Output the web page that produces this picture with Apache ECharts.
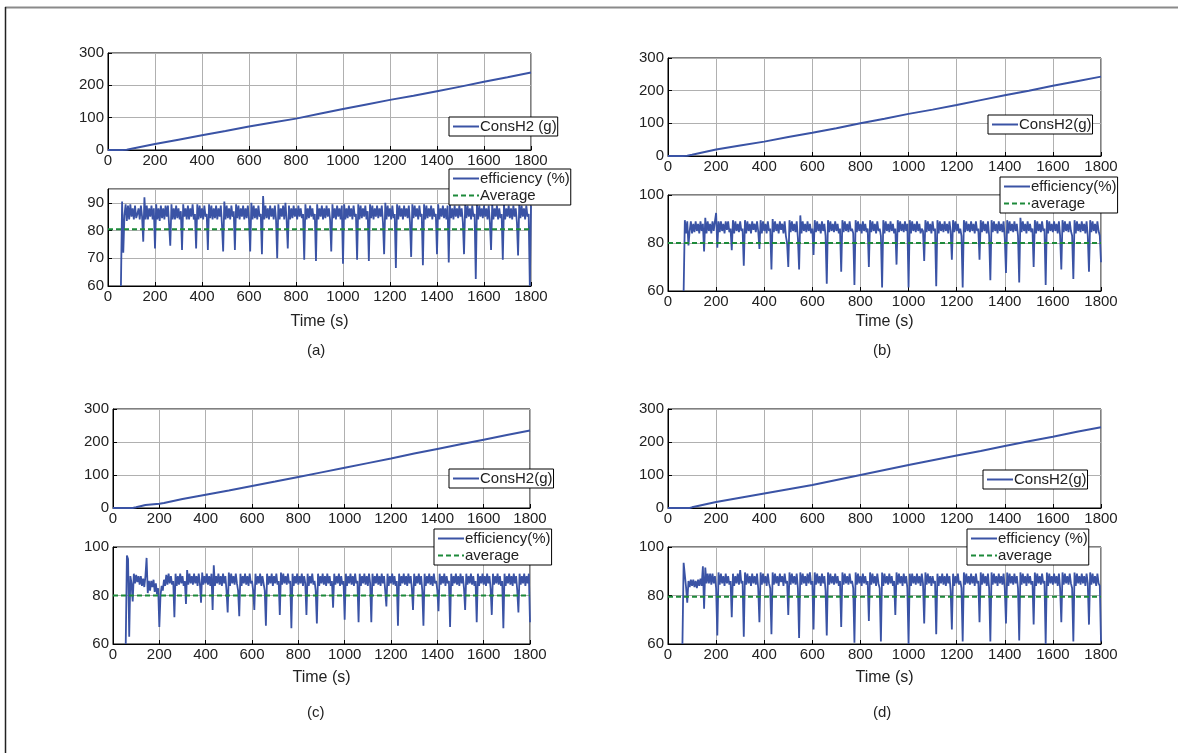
<!DOCTYPE html>
<html><head><meta charset="utf-8">
<script src="https://cdn.jsdelivr.net/npm/echarts@6/dist/echarts.min.js"></script>
<style>html,body{margin:0;padding:0;background:#fff}#c{width:1178px;height:753px}</style>
</head><body><div id="c"></div>
<script>
// ---------- DATA ----------
const X_MIN = 0, X_MAX = 1800, X_INTERVAL = 200;
const EFF_STEP = 5; // sampling step (s) of the efficiency records

// Hydrogen consumption (g)
const CONS_T_A = [0,60,80,100,200,300,400,500,600,700,800,900,1000,1100,1200,1300,1400,1500,1600,1700,1800];
const CONS_A   = [0,0,1,4,18.5,32,45.5,59,73,85,97,112,127,141,155,168,182,196,211,225,240];
const CONS_T_B = [0,60,80,100,200,300,400,500,600,700,800,900,1000,1100,1200,1300,1400,1500,1600,1700,1800];
const CONS_B   = [0,0,1,4,20,32,44,58,71,85,100,114,129,142,156,171,186,200,215,229,243];
const CONS_T_C = [0,85,100,140,200,220,300,400,500,600,700,800,900,1000,1100,1200,1300,1400,1500,1600,1700,1800];
const CONS_C   = [0,0,2,9,13,15,27,40,53,66.5,80,94,108,122,136,150,165,179,193,207,221,235];
const CONS_T_D = [0,60,90,100,200,300,400,500,600,700,800,900,1000,1100,1200,1300,1400,1500,1600,1700,1800];
const CONS_D   = [0,0,0,2,18,31,44,57,70,85,100,115,130,145,159,173,188,202,216,231,245];

// Efficiency (%), one value every 5 s from 0 to 1800 s (null = no record)
const EFF_A = [
null,null,null,null,null,null,null,null,null,null,
null,60,90.5,72,85.5,89.5,83.5,89,84,89.5,
85,88,84,89,84.5,86,88,84,89,85,
76,92,84,89,84,88,85,89,84,88,
73.5,89.5,84,88,83.5,89,84.5,88,84,89,
85,89,82,74.5,89.5,84,88,84,89,84.5,
88,84,87,73,89.5,85,88,84,89,84,
88,85,89.5,84,86,73.5,89.5,84,89,84.5,
88,84,89,85,86,73,89.5,84.5,89,84,
88,84.5,89,84,88,85,89,82,72.5,90.5,
84,89,84.5,88,84,89,85,87,73,89.5,
84.5,89,84,88,85,89,84,88,84.5,89,
84,72.5,90,84,89,84.5,88,84,89,85,
86,71.5,92.5,84,89,84.5,88,84,89,85,
88,84,89,84,70,89.5,84,88,85,89,
84,90,84,73.5,89,84,88,84.5,89,85,
88,84,89,85,88,84.5,86,69.5,89.5,84,
88,84.5,89,85,88,84,86,69,89.5,84,
88,85,89,84,88,84.5,89,85,88,84,
72.5,89.5,84.5,88,84,89,85,88,84,89,
68,89.5,84,88,84.5,89,85,88,84,89,
85,86,69.5,89.5,84,89,84.5,88,85,89,
84,87,69,89.5,84.5,89,84,88,85,89,
84.5,88,85,89,83,71.5,90,84,89,85,
88,84,89,84.5,86,66.5,89.5,84,89,85,
88,84,89,85,88,84.5,89,83,70.5,89.5,
84.5,89,85,88,84,89,85,86,67.5,89.5,
84,89,84.5,88,85,89,84,88,85,86,
71.5,89.5,84,88,85,89,84.5,88,84,89,
68.5,89.5,84.5,88,84,89,85,88,84.5,89,
85,88,83,71.5,89.5,84.5,89,85,88,84,
89,85,86,62.5,89.5,84,89,85,88,84.5,
89,85,88,84,89,83,73,89.5,84,88,
85,89,84,88,84.5,86,69.5,89.5,84,88,
85,89,84.5,88,84,89,85,88,83,71,
89.5,84.5,89,85,88,84,89,85,86,60,
89];
const EFF_B = [
null,null,null,null,null,null,null,null,null,null,
null,null,null,60,89.5,84,89,79,85,89,
84,88,84.5,89,85,88,84,89,85,88,
76.5,90.5,84,89,85,88,84,89,85,89,
92.5,78,89,84.5,89,85,88,84,89,85.5,
89,84.5,86,77,89.5,84,89,85,88,84.5,
89,85,86,70.5,89.5,84,89,85,88,84,
89,85.5,88,84.5,89,85,77.5,89.5,84,89,
85,88,84,89,85,86,69,90,84.5,89,
85,88,84,89,85.5,88,84,89,83,80,
70,89.5,84.5,89,85,88,84.5,89,82,69,
91.5,84,89,85,88,84.5,89,85,88,84,
86,75,89.5,84.5,89,85,88,84,89,85,
88,83,63,89.5,84.5,89,85,88,84.5,89,
85,88,84,86,68,89.5,84.5,89,85,88,
84.5,89,85,86,84,62.5,89.5,84.5,89,85,
88,84,89,85,88,84.5,86,70,89.5,84.5,
89,85,88,84,89,85,86,83,61.5,89.5,
84,89,85,88,84.5,89,85,88,84,86,
71,89.5,84.5,89,85,88,84.5,89,85,88,
61.5,89.5,84,89,85,88,84.5,89,85,88,
84,86,85,72.5,89.5,84.5,89,85,88,84,
89,85,86,62,89.5,84,89,85,88,84.5,
89,85,88,84,89,85,73,89.5,84.5,89,
85,88,84,86,83,61.5,89.5,84.5,89,85,
88,84.5,89,85,88,84,89,85,86,73,
89.5,84.5,89,85,88,84,89,83,64.5,89.5,
84.5,89,85,88,84,89,85,88,84.5,89,
82,67.5,89.5,84,89,85,88,84.5,89,85,
88,83,63.5,90.5,84.5,89,85,88,84,89,
85,88,84.5,86,70,89.5,84,89,85,88,
84.5,89,85,86,62.5,89.5,84,89,85,88,
84.5,89,85,88,84,89,83,69,89.5,84.5,
89,85,88,84.5,89,85,83,65,89.5,84,
89,85,88,84.5,89,85,88,84,89,83,
68,89.5,84.5,89,85,88,84,89,85,83,
72];
const EFF_C = [
null,null,null,null,null,null,null,null,null,null,
null,60,96.5,95,63,88,85,77.5,89,85,
88.5,85.5,88,84.5,88,84,87,83.5,88,95.5,
81,86,82,86,83.5,86.5,81.5,85,80.5,83,
67,80,84,82,86.5,84,88.5,84.5,89,85,
88,84.5,86,71,89,84,88,84.5,89,85,
88,84,86,76.5,90.5,84.5,89,85,88,84.5,
89,85,88,84,89,85,77,89.5,84.5,88,
85,89,84.5,88,84,89,74,92.5,84,88,
85,89,84.5,88,84,89,85,88,82,73,
89.5,84,89,85,88,84.5,89,85,82,71.5,
89,84,88,85,89,84.5,88,84,89,85,
86,82,74,89,84.5,88,85,89,84,88,
85,82,67.5,89,84.5,88,85,89,84,88,
85,89,84.5,86,72,89.5,84.5,89,85,88,
84.5,89,85,86,66.5,89,84,88,85,89,
84.5,88,85,89,84,88,85,72,89,84,
88,85,89,84.5,86,82,68.5,89,84,88,
85,89,84.5,88,84,89,85,88,84,86,
75,89,84.5,88,85,89,84,88,84.5,86,
70,89,84,88,85,89,84.5,88,84,89,
85,86,69,89,84,88,85,89,84.5,88,
84,89,85,69,89,84,88,85,89,84.5,
88,84,89,85,88,82,75.5,89,84,88,
85,89,84.5,88,84,86,67.5,89,84,88,
85,89,84.5,88,84,89,85,88,83,74,
89,84,88,85,89,84.5,88,82,67.5,89,
84,88,85,89,84.5,88,84,89,85,86,
82,73.5,89,84.5,88,85,89,84,88,85,
86,67,89,84,88,85,89,84.5,88,84,
89,85,88,83,74,89,84.5,88,85,89,
84.5,88,84,86,69,89,84,88,85,89,
84.5,88,84,89,85,88,83,72,89,84.5,
88,85,89,84.5,88,84,86,66.5,89,84,
88,85,89,84.5,88,84,89,85,88,82,
73,89,84.5,88,85,89,84,88,85,89,
69];
const EFF_D = [
null,null,null,null,null,null,null,null,null,null,
null,null,60,93.5,93,83.5,77,86,83.5,86.5,
84,86.5,83.5,86,83,86.5,84,87,84,92,
74.5,91.5,85,89,85,89,84.5,89,85,88,
83,63.5,89.5,84.5,89,85,88,84,89,85,
88,84.5,86,71,89,84,88,85,89,84.5,
90.5,85,86,63,89.5,84.5,89,85,88,84,
89,85,88,84.5,89,83,69,89.5,84.5,89,
85,88,84,89,85,83,64,89.5,84.5,89,
85,88,84,89,85.5,88,84,89,85,86,
72,89.5,84.5,89,85,88,84.5,89,83,62.5,
89.5,84.5,89,85,88,84,89,85,89.5,84.5,
86,66,89.5,84.5,89,85,88,84,89,85,
88,82,63.5,89.5,84.5,89,85,88,84.5,89,
85,88,84,86,67,89.5,84.5,89,85,88,
84.5,89,85,86,83,60.5,89.5,84.5,89,85,
88,84,89,85,88,84.5,86,69.5,89.5,84.5,
89,85,88,84,89,85,83,61,89.5,84,
89,85,88,84.5,89,85,88,84,86,72,
89.5,84.5,89,85,88,84,89,85,88,83,
60,89,84,89,85,88,84.5,89,85,88,
84,89,85,68.5,89.5,84.5,89,85,88,84,
88,85,86,64,89,84,88,85,89,84.5,
88,84,89,85,88,82,66,89,84,88,
85,89,84.5,86,83,61,89.5,84.5,89,85,
88,84.5,89,85,88,84,89,85,86,69,
89.5,84.5,89,85,88,84,89,83,61,89.5,
84.5,89,85,88,84,89,85,88,84.5,89,
83,68.5,89.5,84,89,85,88,84.5,89,85,
88,83,61.5,89.5,84.5,89,85,88,84,89,
85,88,84.5,86,68,89.5,84,89,85,88,
84.5,89,85,86,60,89.5,84,89,85,88,
84.5,89,85,88,84,89,83,69,89.5,84.5,
89,85,88,84.5,89,85,83,61,89.5,84,
89,85,88,84.5,89,85,88,84,89,85,
68,89.5,84.5,89,85,88,84,89,85,84,
61];

// Averages (%)
const AVG_A = 80.5, AVG_B = 80, AVG_C = 80, AVG_D = 79.5;

// Texts
const PANEL_LABELS = ['(a)', '(b)', '(c)', '(d)'];
const CONS_NAMES = ['ConsH2 (g)', 'ConsH2(g)', 'ConsH2(g)', 'ConsH2(g)'];
const EFF_NAMES = ['efficiency (%)', 'efficiency(%)', 'efficiency(%)', 'efficiency (%)'];
const AVG_NAMES = ['Average', 'average', 'average', 'average'];
const X_TITLE = 'Time (s)';

// ---------- LAYOUT ----------
const FONT = "'Liberation Sans', Arial, Helvetica, sans-serif";
const BLUE = '#3a53a5', GREEN = '#1d8a3a', GRID_C = '#b0b0b0', TXT = '#222';

const PANELS = [
  { cons: [CONS_T_A, CONS_A], eff: EFF_A, avg: AVG_A, effMin: 60, effMax: 95, effInt: 10,
    top: {l:108, t:53, w:423, h:97}, bot: {l:108, t:189, w:423, h:97},
    legTop: {l:449, t:117}, legBot: {l:449, t:169}, nameGap: 28, label: {x:319, y:352} },
  { cons: [CONS_T_B, CONS_B], eff: EFF_B, avg: AVG_B, effMin: 60, effMax: 100, effInt: 20,
    top: {l:668, t:58, w:433, h:98}, bot: {l:668, t:195, w:433, h:96},
    legTop: {l:988, t:115}, legBot: {l:1000, t:177}, nameGap: 23, label: {x:885, y:352} },
  { cons: [CONS_T_C, CONS_C], eff: EFF_C, avg: AVG_C, effMin: 60, effMax: 100, effInt: 20,
    top: {l:113, t:409, w:417, h:99}, bot: {l:113, t:547, w:417, h:97},
    legTop: {l:449, t:469}, legBot: {l:434, t:529}, nameGap: 26, label: {x:319, y:714} },
  { cons: [CONS_T_D, CONS_D], eff: EFF_D, avg: AVG_D, effMin: 60, effMax: 100, effInt: 20,
    top: {l:668, t:409, w:433, h:99}, bot: {l:668, t:547, w:433, h:97},
    legTop: {l:983, t:470}, legBot: {l:967, t:529}, nameGap: 26, label: {x:885, y:714} }
];

const grids = [], xAxes = [], yAxes = [], series = [], legends = [], graphics = [];

function addGrid(pos) {
  grids.push({ left: pos.l, top: pos.t, width: pos.w, height: pos.h, show: true,
    borderColor: '#000', borderWidth: 1, backgroundColor: '#fff' });
  return grids.length - 1;
}
function xAxisFor(gi, withName, gap) {
  xAxes.push({ type: 'value', gridIndex: gi, min: X_MIN, max: X_MAX, interval: X_INTERVAL,
    axisLine: { show: true, lineStyle: { color: '#000', width: 1 } },
    axisTick: { show: true, inside: true, length: 4, lineStyle: { color: '#000' } },
    axisLabel: { color: TXT, fontSize: 15, fontFamily: FONT, margin: 3, formatter: v => String(v) },
    splitLine: { show: true, lineStyle: { color: GRID_C, width: 1 } },
    name: withName ? X_TITLE : '', nameLocation: 'middle', nameGap: gap,
    nameTextStyle: { color: TXT, fontSize: 16, fontFamily: FONT } });
  return xAxes.length - 1;
}
function yAxisFor(gi, min, max, interval) {
  yAxes.push({ type: 'value', gridIndex: gi, min: min, max: max, interval: interval,
    axisLine: { show: true, lineStyle: { color: '#000', width: 1 } },
    axisTick: { show: true, inside: true, length: 4, lineStyle: { color: '#000' } },
    axisLabel: { color: TXT, fontSize: 15, fontFamily: FONT, margin: 4, showMaxLabel: (max % interval === 0),
      formatter: v => (v % interval === 0 ? String(v) : '') },
    splitLine: { show: true, lineStyle: { color: GRID_C, width: 1 } } });
  return yAxes.length - 1;
}
function legendAt(pos, names) {
  legends.push({ left: pos.l, top: pos.t, orient: 'vertical', data: names, selectedMode: false,
    backgroundColor: '#fff', borderColor: '#000', borderWidth: 1, borderRadius: 0,
    padding: [2, 1, 2, 3], itemGap: 2, itemWidth: 26, itemHeight: 15,
    itemStyle: { opacity: 0 },
    textStyle: { color: TXT, fontSize: 15, fontFamily: FONT, padding: [0, 0, 0, -4] } });
}

PANELS.forEach((p, i) => {
  // top: hydrogen consumption
  const g1 = addGrid(p.top);
  const x1 = xAxisFor(g1, false, 0);
  const y1 = yAxisFor(g1, 0, 300, 100);
  series.push({ type: 'line', name: CONS_NAMES[i], xAxisIndex: x1, yAxisIndex: y1,
    data: p.cons[0].map((t, k) => [t, p.cons[1][k]]), showSymbol: false, symbol: 'none',
    lineStyle: { color: BLUE, width: 2 }, itemStyle: { color: BLUE }, z: 3 });
  legendAt(p.legTop, [CONS_NAMES[i]]);

  // bottom: efficiency
  const g2 = addGrid(p.bot);
  const x2 = xAxisFor(g2, true, p.nameGap);
  const y2 = yAxisFor(g2, p.effMin, p.effMax, p.effInt);
  const effData = [];
  p.eff.forEach((v, k) => { if (v !== null) effData.push([k * EFF_STEP, v]); });
  series.push({ type: 'line', name: EFF_NAMES[i], xAxisIndex: x2, yAxisIndex: y2, data: effData,
    showSymbol: false, symbol: 'none', lineStyle: { color: BLUE, width: 1.8 }, itemStyle: { color: BLUE }, z: 3 });
  series.push({ type: 'line', name: AVG_NAMES[i], xAxisIndex: x2, yAxisIndex: y2,
    data: [[X_MIN, p.avg], [X_MAX, p.avg]], showSymbol: false, symbol: 'none',
    lineStyle: { color: GREEN, width: 2, type: [5, 3] }, itemStyle: { color: GREEN }, z: 4 });
  legendAt(p.legBot, [EFF_NAMES[i], AVG_NAMES[i]]);

  graphics.push({ type: 'text', left: p.label.x - 12, top: p.label.y - 9,
    style: { text: PANEL_LABELS[i], fill: TXT, font: '15px ' + FONT } });
});

// outer frame
graphics.push({ type: 'line', shape: { x1: 5, y1: 7.5, x2: 1178, y2: 7.5 }, style: { stroke: '#8a8a8a', lineWidth: 2 } });
graphics.push({ type: 'line', shape: { x1: 5.5, y1: 7, x2: 5.5, y2: 753 }, style: { stroke: '#222', lineWidth: 1.5 } });

const chart = echarts.init(document.getElementById('c'), null, { renderer: 'canvas' });
chart.setOption({
  animation: false,
  backgroundColor: '#fff',
  grid: grids, xAxis: xAxes, yAxis: yAxes, series: series, legend: legends, graphic: graphics
});
</script></body></html>
